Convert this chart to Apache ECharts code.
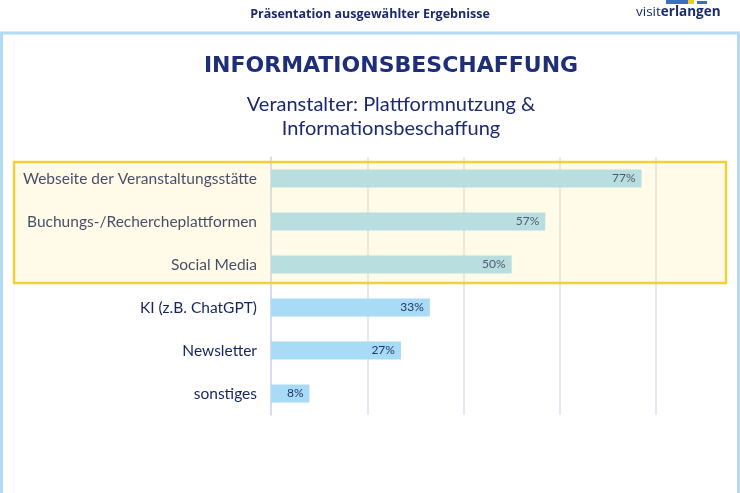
<!DOCTYPE html>
<html>
<head>
<meta charset="utf-8">
<script src="https://cdn.jsdelivr.net/npm/echarts@6/dist/echarts.min.js"></script>
<style>
  html, body { margin: 0; padding: 0; background: #ffffff; }
  #chart { width: 740px; height: 493px; }
</style>
</head>
<body>
<div id="chart"></div>
<script>
// categories top to bottom
const categories = [
    'Webseite der Veranstaltungsstätte',
    'Buchungs-/Rechercheplattformen',
    'Social Media',
    'KI (z.B. ChatGPT)',
    'Newsletter',
    'sonstiges'
]
const shares = [77, 57, 50, 33, 27, 8]

const navy = '#1b2a6b'
const barBlue = '#a8dbf5'

var myChart = echarts.init(document.getElementById('chart'))

var barData = shares.map((v, i) => {
    return { value: v, itemStyle: { color: barBlue } }
})

option = {
    backgroundColor: '#ffffff',
    animation: false,
    grid: { left: 271, right: 84, top: 157, bottom: 78 },
    xAxis: {
        type: 'value',
        min: 0,
        max: 80,
        interval: 20,
        axisLabel: { show: false },
        axisLine: { show: false },
        axisTick: { show: false },
        splitLine: { lineStyle: { color: '#dde0f0', width: 1.5 } }
    },
    yAxis: {
        type: 'category',
        inverse: true,
        data: categories,
        axisLine: { lineStyle: { color: '#d3d8ec', width: 1.5 } },
        axisTick: { lineStyle: { color: '#d3d8ec' }, length: 4 },
        axisLabel: {
            margin: 14,
            fontFamily: 'Lato',
            fontSize: 15.5,
            color: '#16245e'
        }
    },
    series: [{
        type: 'bar',
        data: barData,
        barWidth: 18,
        label: {
            show: true,
            position: 'insideRight',
            formatter: '{c}%',
            fontFamily: 'Lato',
            fontSize: 12,
            color: '#24346a',
            distance: 6
        },
        z: 2
    }],
    graphic: [
        // outer light blue frame
        { type: 'rect', shape: { x: 1.5, y: 33, width: 737, height: 480 },
          style: { fill: 'none', stroke: '#b3daf4', lineWidth: 3 }, z: 1 },
        { type: 'line', shape: { x1: 14, y1: 40, x2: 14, y2: 493 },
          style: { stroke: '#f1f4f8', lineWidth: 1 }, z: 1 },
        // header
        { type: 'text', x: 370, y: 8,
          style: { text: 'Präsentation ausgewählter Ergebnisse', font: 'bold 12.5px "Open Sans"', fill: navy, textAlign: 'center' }, z: 5 },
        // logo
        { type: 'rect', shape: { x: 666, y: 0, width: 22, height: 4 }, style: { fill: '#3b6fc0' }, z: 5 },
        { type: 'rect', shape: { x: 688, y: 0, width: 6, height: 4 }, style: { fill: '#f3c623' }, z: 5 },
        { type: 'rect', shape: { x: 697, y: 1, width: 10, height: 3 }, style: { fill: '#3b6fc0' }, z: 5 },
        { type: 'text', x: 636, y: 5,
          style: { text: '{a|visit}{b|erlangen}', rich: {
              a: { font: '13.5px "Open Sans"', fill: navy, color: navy },
              b: { font: 'bold 13.5px "Open Sans"', fill: navy, color: navy }
          } }, z: 5 },
        // title
        { type: 'text', x: 391, y: 55,
          style: { text: 'INFORMATIONSBESCHAFFUNG', font: 'bold 22px "DejaVu Sans"', fill: '#1e2e78', textAlign: 'center' }, z: 5 },
        { type: 'text', x: 391, y: 93,
          style: { text: 'Veranstalter: Plattformnutzung &\nInformationsbeschaffung', font: '20px Lato',
                   fill: navy, textAlign: 'center', align: 'center', lineHeight: 24 }, z: 5 },
        // highlight box over top three categories
        { type: 'rect', shape: { x: 14, y: 162, width: 712, height: 121 },
          style: { fill: 'rgba(255,236,140,0.2)', stroke: '#f0d13a', lineWidth: 2.5 }, z: 10 }
    ]
}
myChart.setOption(option)
</script>
</body>
</html>
